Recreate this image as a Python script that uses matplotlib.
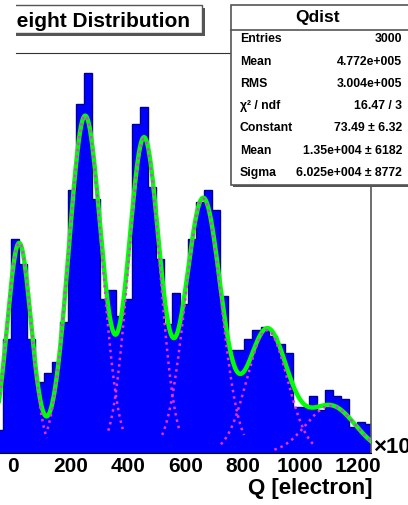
import numpy as np
import matplotlib
matplotlib.use("Agg")
import matplotlib.pyplot as plt
from matplotlib.patches import Rectangle
from matplotlib.lines import Line2D
from matplotlib.ticker import MultipleLocator

plt.rcParams['font.family'] = ['Liberation Sans', 'DejaVu Sans']
plt.rcParams['font.weight'] = 'bold'

# ---------------- data ----------------
# histogram definition (like TH1: nbins, xlow, xup), x in units of 10^3 electrons
nbins = 47
xlow = -63.0
xup = 1253.0
counts = [8, 40, 75, 66, 40, 25, 28, 32, 46, 92, 122, 133, 89, 54, 57, 48,
          54, 115, 121, 93, 68, 45, 56, 52, 75, 88, 92, 85, 55, 36, 36, 40,
          43, 44, 41, 38, 35, 16, 16, 20, 15, 22, 20, 19, 9, 11, 10]

# multi-gaussian fit components (amplitude, mean, sigma)
g_amp = [73.5, 118.0, 110.0, 89.0, 43.0, 16.5]
g_mean = [20.0, 250.0, 455.0, 661.0, 884.0, 1105.0]
g_sigma = [42.0, 57.0, 54.0, 62.0, 70.0, 85.0]
comp_range_nsigma = 2.3

xticks = [0, 200, 400, 600, 800, 1000, 1200]
title = "Pulse Height Distribution"
xlabel = "Q [electron]"
stats_name = "Qdist"
stats_labels = ["Entries", "Mean", "RMS", "χ² / ndf", "Constant", "Mean", "Sigma"]
stats_values = ["3000", "4.772e+005", "3.004e+005", "16.47 / 3",
                "73.49 ± 6.32", "1.35e+004 ± 6182", "6.025e+004 ± 8772"]

# ---------------- layout ----------------
W, H = 408, 505
fig = plt.figure(figsize=(W / 100, H / 100), dpi=100)
fig.patch.set_facecolor("white")


def fx(px):
    return px / W


def fy(py):
    return 1 - py / H


def rect_px(x0, y0, x1, y1, **kw):
    return Rectangle((fx(x0), fy(y1)), (x1 - x0) / W, (y1 - y0) / H,
                     transform=fig.transFigure, **kw)


AX_L, AX_R, AX_T, AX_B = -44.0, 371.0, 53.0, 453.0
XMIN, XMAX = -200.0, 1246.0
ax = fig.add_axes([fx(AX_L), fy(AX_B), (AX_R - AX_L) / W, (AX_B - AX_T) / H])
ax.set_xlim(XMIN, XMAX)
ax.set_ylim(0, 140)

edges = np.linspace(xlow, xup, nbins + 1)
ax.stairs(counts, edges, fill=True, color="#0000ff", zorder=2)
ax.stairs(counts, edges, color="#000090", lw=1.0, zorder=2.5)

xf = np.linspace(XMIN, XMAX, 2000)
total = np.zeros_like(xf)
for a, m, s in zip(g_amp, g_mean, g_sigma):
    total += a * np.exp(-0.5 * ((xf - m) / s) ** 2)
ax.plot(xf, total, color="#00ff00", lw=3.2, zorder=3)

for a, m, s in zip(g_amp, g_mean, g_sigma):
    xr = np.linspace(m - comp_range_nsigma * s, m + comp_range_nsigma * s, 400)
    ax.plot(xr, a * np.exp(-0.5 * ((xr - m) / s) ** 2), color="#f030f0",
            lw=1.8, linestyle=(0, (1, 1.6)), zorder=4)

ax.set_xticks(xticks)
ax.xaxis.set_minor_locator(MultipleLocator(40))
ax.set_yticks([])
ax.tick_params(axis="x", which="major", direction="in", length=7, width=1,
               labelsize=15, pad=3, color="black")
ax.tick_params(axis="x", which="minor", direction="in", length=3.5, width=1)
for lab in ax.get_xticklabels():
    lab.set_fontweight("bold")

ax.spines["left"].set_visible(False)
ax.spines["top"].set_bounds(9.4, XMAX)
ax.spines["top"].set_color("#333333")
ax.spines["right"].set_color("#555555")
ax.spines["right"].set_linewidth(1.2)
ax.spines["bottom"].set_color("black")

# title box (its left part lies outside the visible crop)
fig.patches.append(rect_px(-400, 8, 205, 36, fc="#555555", ec="none", zorder=10))
fig.patches.append(rect_px(-400, 5, 202, 33, fc="white", ec="#555555", lw=1, zorder=11))
fig.text(fx(190), fy(27), title, ha="right", va="baseline", fontsize=15,
         fontweight="bold", zorder=12)
# blank strip at the cropped left edge above the plot area
fig.patches.append(rect_px(-2, -2, 15.5, 45, fc="white", ec="none", zorder=13))

# stats box
fig.patches.append(rect_px(233, 7, 422, 187, fc="#555555", ec="none", zorder=10))
fig.patches.append(rect_px(231, 5, 420, 185, fc="white", ec="#555555", lw=1.2, zorder=11))
fig.lines.append(Line2D([fx(231), fx(420)], [fy(30), fy(30)], transform=fig.transFigure,
                        color="#555555", lw=1.2, zorder=12))
fig.text(fx(318), fy(17.5), stats_name, ha="center", va="center", fontsize=12.5,
         fontweight="bold", zorder=12)
row_y = [39.3, 61.7, 83.6, 106, 128.3, 150.7, 173.3]
for yy, lab, val in zip(row_y, stats_labels, stats_values):
    fig.text(fx(240), fy(yy), lab, ha="left", va="center", fontsize=8.8,
             fontweight="bold", zorder=12)
    fig.text(fx(402), fy(yy), val, ha="right", va="center", fontsize=8.8,
             fontweight="bold", zorder=12)

fig.text(fx(372), fy(494), xlabel, ha="right", va="baseline", fontsize=16,
         fontweight="bold")
fig.text(fx(373), fy(447.5), "×10³", ha="left", va="center", fontsize=16,
         fontweight="bold")

fig.savefig("out.png", dpi=100)
